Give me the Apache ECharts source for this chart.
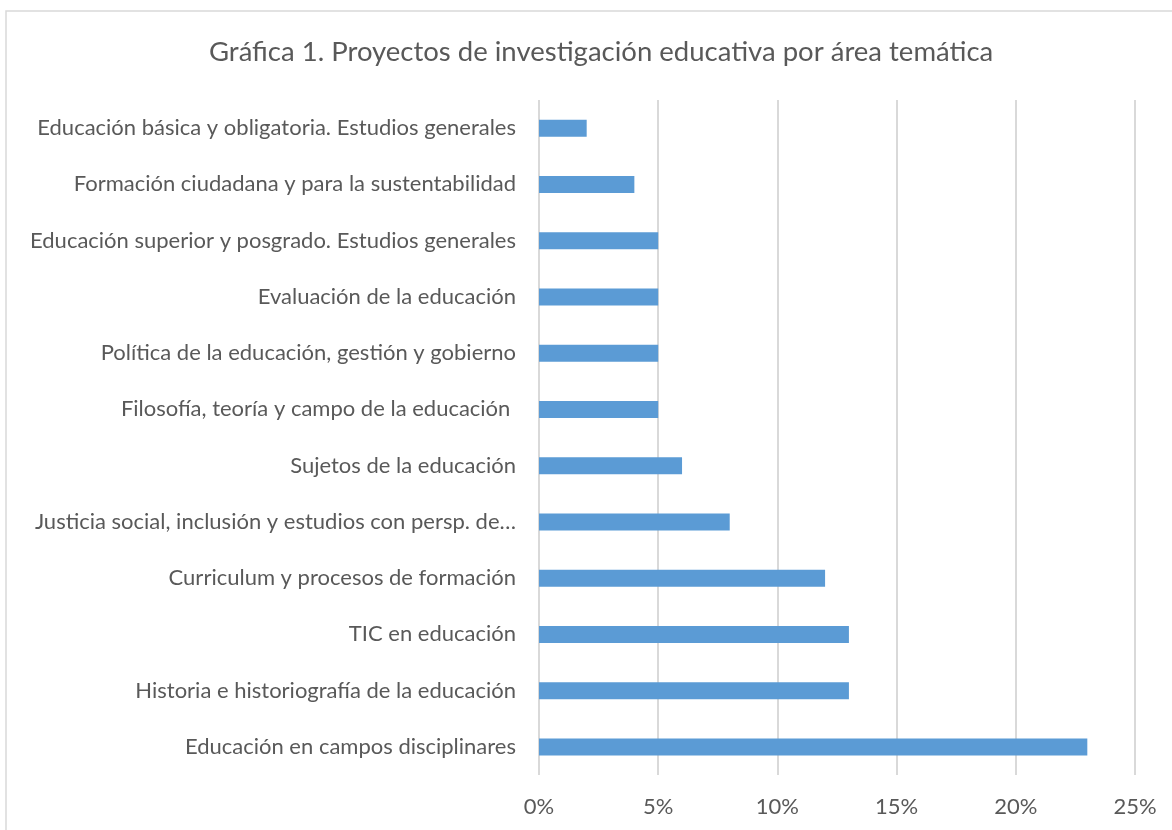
<!DOCTYPE html>
<html>
<head>
<meta charset="utf-8">
<script src="https://cdn.jsdelivr.net/npm/echarts@6/dist/echarts.min.js"></script>
<style>
  html, body { margin: 0; padding: 0; background: #fff; }
  #chart { width: 1172px; height: 830px; }
</style>
</head>
<body>
<div id="chart"></div>
<script>
// categories, top to bottom as in the picture
var categories = [
    'Educación básica y obligatoria. Estudios generales',
    'Formación ciudadana y para la sustentabilidad',
    'Educación superior y posgrado. Estudios generales',
    'Evaluación de la educación',
    'Política de la educación, gestión y gobierno',
    'Filosofía, teoría y campo de la educación ',
    'Sujetos de la educación',
    'Justicia social, inclusión y estudios con persp. de…',
    'Curriculum y procesos de formación',
    'TIC en educación',
    'Historia e historiografía de la educación',
    'Educación en campos disciplinares'
];
// porcentaje de proyectos
var shares = [2, 4, 5, 5, 5, 5, 6, 8, 12, 13, 13, 23];
var xTicks = [0, 5, 10, 15, 20, 25];

var textColor = '#595959';
var fontName = 'Lato';

var myChart = echarts.init(document.getElementById('chart'));
var option = {
    backgroundColor: '#fff',
    textStyle: { fontFamily: fontName },
    graphic: [{
        type: 'rect',
        shape: { x: 6, y: 11, width: 1200, height: 840 },
        style: { fill: 'none', stroke: '#d9d9d9', lineWidth: 1.5 },
        silent: true
    }],
    title: {
        text: 'Gráfica 1. Proyectos de investigación educativa por área temática',
        left: 204,
        top: 33,
        textStyle: { color: textColor, fontSize: 27.5, fontWeight: 'normal', fontFamily: fontName }
    },
    grid: { left: 539, right: 37, top: 100, bottom: 55, containLabel: false },
    xAxis: {
        type: 'value',
        min: xTicks[0],
        max: xTicks[xTicks.length - 1],
        interval: 5,
        axisLine: { show: false },
        axisTick: { show: false },
        axisLabel: {
            color: textColor, fontSize: 22, margin: 21, fontFamily: fontName,
            formatter: function (v) { return v + '%'; }
        },
        splitLine: { lineStyle: { color: '#d9d9d9', width: 2 } }
    },
    yAxis: {
        type: 'category',
        data: categories,
        inverse: true,
        axisLine: { show: false },
        axisTick: { show: false },
        axisLabel: { color: textColor, fontSize: 22, margin: 23, fontFamily: fontName }
    },
    series: [{
        name: 'Proyectos',
        type: 'bar',
        data: shares,
        barWidth: 17,
        itemStyle: { color: '#5b9bd5' }
    }]
};
myChart.setOption(option);
</script>
</body>
</html>
